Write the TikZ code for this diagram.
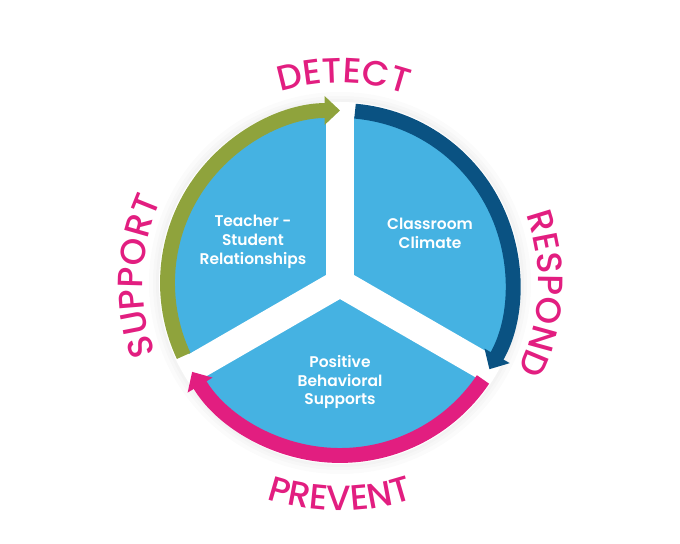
\documentclass[tikz,border=0pt]{standalone}
\usepackage{fontspec}
\setmainfont{Poppins}
\newfontfamily\stagefont{Poppins Medium}
\newfontfamily\wedgefont{Poppins SemiBold}
\usepackage{xcolor}
\usepackage{tikz}
\usetikzlibrary{positioning,arrows.meta,decorations.text}

\definecolor{wedgeblue}{RGB}{69,178,226}
\definecolor{supportgreen}{RGB}{143,163,60}
\definecolor{respondblue}{RGB}{10,82,130}
\definecolor{preventpink}{RGB}{226,30,128}

\begin{document}
\begin{tikzpicture}[
  x=0.025cm, y=0.025cm,
  cyclearc/.style={line width=10.6pt, -{Triangle[width=20pt, length=11pt]}},
  gapband/.style={white, line width=19.8pt},
  wedgetext/.style={align=center, text=white, font=\wedgefont\fontsize{11}{13.5}\selectfont},
  steplabel/.style={decorate, decoration={text along path, text align=center,
    text={|\stagefont\fontsize{25}{28}\selectfont\color{preventpink}|#1}}}
  ]
  \useasboundingbox (-340,-261) rectangle (340,283);
  \coordinate (hub) at (0,0);
  % soft glow round the wheel
  \foreach \r in {191,187,184} \fill[black, opacity=0.015] (hub) circle[radius=\r];
  \fill[white] (hub) circle[radius=181];
  % wedges
  \fill[wedgeblue] (hub) circle[radius=167];
  \foreach \a in {90,210,330} \draw[gapband] (hub) -- (\a:172);
  % cycle arrows
  \draw[cyclearc, supportgreen] (205:172.5) arc[start angle=205, end angle=90, radius=172.5];
  \draw[cyclearc, respondblue] (85:172.5) arc[start angle=85, end angle=-30, radius=172.5];
  \draw[cyclearc, preventpink] (-34:172.5) arc[start angle=-34, end angle=-149, radius=172.5];
  % wedge texts
  \node[wedgetext] (relate) at (-87,41) {Teacher -\\Student\\Relationships};
  \node[wedgetext] (climate) at (90,50) {Classroom\\Climate};
  \node[wedgetext] (pbs) at (0,-99) {Positive\\Behavioral\\Supports};
  % stage labels
  \path[steplabel=DETECT] (134:200) arc[start angle=134, end angle=44, radius=200];
  \path[steplabel=RESPOND] (42:198) arc[start angle=42, end angle=-48, radius=198];
  \path[steplabel=PREVENT] (-125:228) arc[start angle=-125, end angle=-55, radius=228];
  \path[steplabel=SUPPORT] (223:197) arc[start angle=223, end angle=133, radius=197];
\end{tikzpicture}
\end{document}
